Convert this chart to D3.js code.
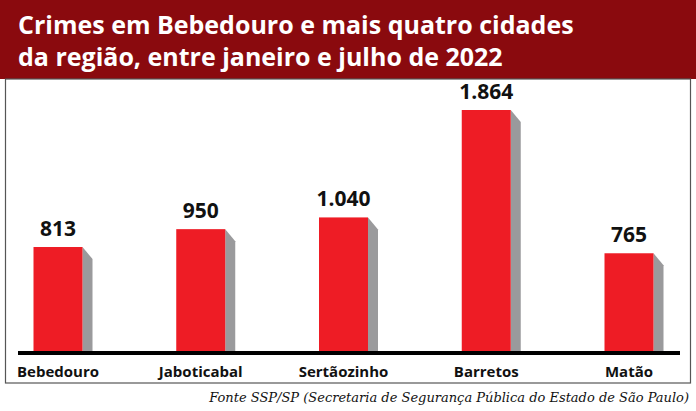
<!DOCTYPE html><html><head><meta charset="utf-8"><script src="https://cdn.jsdelivr.net/npm/d3@7"></script>
<style>body{margin:0;background:#fff}</style></head><body><svg id="c" width="696" height="411"></svg>
<script>
const categories=["Bebedouro","Jaboticabal","Sertãozinho","Barretos","Matão"];
const values=[813,950,1040,1864,765];
const valueLabels=["813","950","1.040","1.864","765"];
const titleLines=["Crimes em Bebedouro e mais quatro cidades","da região, entre janeiro e julho de 2022"];
const source="Fonte SSP/SP (Secretaria de Segurança Pública do Estado de São Paulo)";
const svg=d3.select("#c");
svg.append("rect").attr("x",0).attr("y",0).attr("width",696).attr("height",79).attr("fill","#8a0a0e");
svg.append("rect").attr("x",5.5).attr("y",79).attr("width",685).attr("height",304).attr("fill","none").attr("stroke","#555").attr("stroke-width",1.2);
svg.selectAll(".t").data(titleLines).join("text").attr("x",18).attr("y",(d,i)=>34+i*32)
 .attr("fill","#fff").attr("font-family","Open Sans").attr("font-weight",700).attr("font-size",25).text(d=>d);
const x=d3.scalePoint().domain(categories).range([58,629]);
const y=d3.scaleLinear().domain([0,1864]).range([353,110]);
const bw=49,sw=10;
const g=svg.append("g");
categories.forEach((c,i)=>{
 const cx=x(c),top=y(values[i]),l=cx-bw/2,r=cx+bw/2;
 g.append("path").attr("d",`M${r},${top}L${r+sw},${top+12}L${r+sw},353L${r},353Z`).attr("fill","#9a9a9c");
 g.append("rect").attr("x",l).attr("y",top).attr("width",bw).attr("height",353-top).attr("fill","#ee1c25");
 g.append("text").attr("x",cx).attr("y",top-11).attr("text-anchor","middle").attr("font-family","Open Sans").attr("font-weight",700).attr("font-size",21).attr("fill","#111").text(valueLabels[i]);
 g.append("text").attr("x",cx).attr("y",377).attr("text-anchor","middle").attr("font-family","Open Sans").attr("font-weight",700).attr("font-size",15).attr("fill","#111").text(c);
});
svg.append("line").attr("x1",18).attr("x2",680).attr("y1",353).attr("y2",353).attr("stroke","#000").attr("stroke-width",4);
svg.append("text").attr("x",689).attr("y",402).attr("text-anchor","end").attr("font-family","DejaVu Serif").attr("font-style","italic").attr("font-size",13).attr("fill","#111").text(source);
</script></body></html>
